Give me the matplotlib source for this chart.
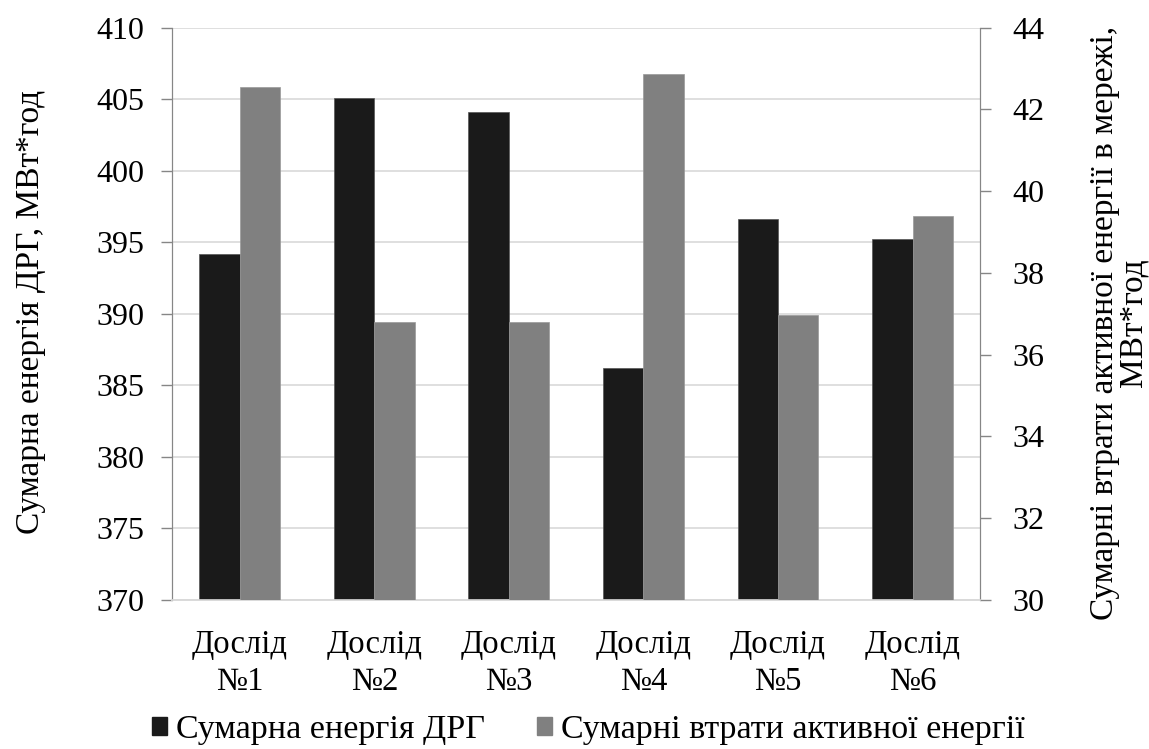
import matplotlib
matplotlib.use("Agg")
import matplotlib.pyplot as plt
import numpy as np
from matplotlib.patches import Patch

plt.rcParams['font.family'] = ['Liberation Serif', 'DejaVu Serif']

categories = ["Дослід\n№1", "Дослід\n№2", "Дослід\n№3", "Дослід\n№4", "Дослід\n№5", "Дослід\n№6"]
energy_drg = [394.2, 405.1, 404.1, 386.2, 396.6, 395.2]
losses = [42.56, 36.8, 36.8, 42.87, 36.98, 39.39]
left_ticks = [370, 375, 380, 385, 390, 395, 400, 405, 410]
right_ticks = [30, 32, 34, 36, 38, 40, 42, 44]
series_names = ["Сумарна енергія ДРГ", "Сумарні втрати активної енергії"]
left_label = "Сумарна енергія ДРГ, МВт*год"
right_label = "Сумарні втрати активної енергії в мережі,\nМВт*год"

c_black = "#1a1a1a"
c_gray = "#808080"
c_grid = "#d9d9d9"
c_axis = "#868686"
fs_tick = 23
fs_cat = 23.5
fs_lab = 24
fs_leg = 24.5

W, H = 1149, 749
fig = plt.figure(figsize=(W / 100, H / 100), dpi=100)
ax = fig.add_axes([172.3 / W, 1 - 600 / H, (980 - 172.3) / W, (600 - 27.7) / H])
ax2 = ax.twinx()

x = np.arange(len(categories))
w = 0.3
ax.bar(x - w/2, np.array(energy_drg) - 370, bottom=370, width=w, color=c_black,
       edgecolor="#555555", linewidth=0.5, zorder=3)
ax2.bar(x + w/2, np.array(losses) - 30, bottom=30, width=w, color=c_gray,
        edgecolor="#999999", linewidth=0.5, zorder=3)

ax.set_xlim(-0.5, len(categories) - 0.5)
ax.set_ylim(370, 410)
ax2.set_ylim(30, 44)
ax.set_yticks(left_ticks)
ax2.set_yticks(right_ticks)
ax.set_xticks(x)
ax.set_xticklabels(categories, fontsize=fs_cat, linespacing=1.3)
ax.tick_params(axis='x', length=0, pad=21)
ax.tick_params(axis='y', labelsize=fs_tick, length=8, color=c_axis, width=1, pad=12)
ax2.tick_params(axis='y', labelsize=fs_tick, length=8, color=c_axis, width=1, pad=15)

ax.yaxis.grid(True, color=c_grid, linewidth=1.2, zorder=0)
ax.set_axisbelow(True)

for a in (ax, ax2):
    a.spines['top'].set_visible(False)
    a.spines['left'].set_color(c_axis)
    a.spines['right'].set_color(c_axis)
    a.spines['bottom'].set_color(c_grid)
    a.spines['bottom'].set_linewidth(1.2)
ax2.patch.set_visible(False)

fig.text(31 / W, 1 - 312 / H, left_label, rotation=90, ha='center', va='center', fontsize=fs_lab)
fig.text(1119 / W, 1 - 323 / H, right_label, rotation=90, ha='center', va='center',
         fontsize=fs_lab, linespacing=0.95, multialignment='center')

handles = [Patch(facecolor=c_black, edgecolor=c_black), Patch(facecolor=c_gray, edgecolor=c_gray)]
fig.legend(handles, series_names, loc='center left', bbox_to_anchor=(151.7 / W, 1 - 730 / H), ncol=2,
           frameon=False, fontsize=fs_leg, handlelength=0.45, handleheight=0.45,
           handletextpad=0.25, columnspacing=1.55, borderpad=0, borderaxespad=0)

fig.savefig("out.png", dpi=100)
